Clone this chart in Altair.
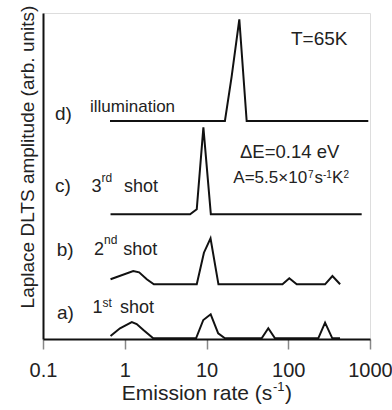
import altair as alt
import pandas as pd

# ---- data (emission rate in s^-1, amplitude in arb. units) ----
a_rate = [0.67, 0.875, 1.22, 1.40, 1.69, 2.23, 7.45, 9.14, 11.25, 13.9, 16.8, 47.3, 57.0, 68.8, 233, 282, 346, 430]
a_amp  = [3, 10.7, 17, 15, 9, 0.7, 0.7, 19, 24.7, 5.7, 0.7, 0.7, 10.7, 0.7, 0.7, 16.3, 0.7, 0.7]

b_rate = [0.67, 1.27, 1.50, 1.86, 2.27, 7.6, 9.3, 11.2, 14.0, 85, 103, 127, 282, 347, 431]
b_amp  = [59.7, 68, 66.7, 59.7, 54.7, 54.7, 86.3, 100.7, 54.7, 54.7, 60.7, 54.7, 54.7, 63, 54.7]

c_rate = [0.67, 6.3, 7.6, 9.16, 11.3, 791]
c_amp  = [124.7, 124.7, 129.7, 211.7, 124.7, 124.7]

d_rate = [0.66, 16.8, 20.3, 25.2, 31.0, 953]
d_amp  = [218, 218, 262.3, 319.7, 218, 218]

tick_values = [0.1, 1, 10, 100, 1000]

rows = []
for name, xs, ys in [("a", a_rate, a_amp), ("b", b_rate, b_amp), ("c", c_rate, c_amp), ("d", d_rate, d_amp)]:
    for xv, yv in zip(xs, ys):
        rows.append({"curve": name, "x": xv, "y": yv})
curves = pd.DataFrame(rows)

# ---- annotations (text, anchor in data coordinates, font size) ----
ann = pd.DataFrame([
    {"text": "T=65K", "x": 108, "y": 294, "size": 19},
    {"text": "d)", "x": 0.140, "y": 219, "size": 19},
    {"text": "illumination", "x": 0.376, "y": 227.5, "size": 17},
    {"text": "c)", "x": 0.140, "y": 147, "size": 19},
    {"text": "3", "x": 0.392, "y": 147, "size": 18},
    {"text": "rd", "x": 0.519, "y": 157.5, "size": 12},
    {"text": "shot", "x": 0.979, "y": 147, "size": 18},
    {"text": "\u0394E=0.14 eV", "x": 25.7, "y": 181, "size": 18.5},
    {"text": "A=5.5\u00d710", "x": 21.3, "y": 155.7, "size": 17},
    {"text": "7", "x": 174.4, "y": 161.5, "size": 10},
    {"text": "s", "x": 209.5, "y": 155.7, "size": 17},
    {"text": "-1", "x": 266.1, "y": 161.5, "size": 10},
    {"text": "K", "x": 343, "y": 155.7, "size": 17},
    {"text": "2", "x": 474, "y": 161.5, "size": 10},
    {"text": "b)", "x": 0.147, "y": 83.5, "size": 19},
    {"text": "2", "x": 0.4206, "y": 84, "size": 18},
    {"text": "nd", "x": 0.5574, "y": 95, "size": 12},
    {"text": "shot", "x": 0.960, "y": 84, "size": 18},
    {"text": "a)", "x": 0.148, "y": 20.5, "size": 19},
    {"text": "1", "x": 0.403, "y": 25.7, "size": 18},
    {"text": "st", "x": 0.534, "y": 32, "size": 12},
    {"text": "shot", "x": 0.875, "y": 25.7, "size": 18},
    # x-axis title with superscript
    {"text": "Emission rate (s", "x": 0.918, "y": -61, "size": 21},
    {"text": "-1", "x": 65.1, "y": -52, "size": 13},
    {"text": ")", "x": 91.2, "y": -61, "size": 21},
])

FONT = "Liberation Sans"

xscale = alt.Scale(type="log", domain=[0.1, 1000], nice=False)
yscale = alt.Scale(domain=[0, 326], nice=False, zero=False)

lines = alt.Chart(curves).mark_line(color="#111111", strokeWidth=2).encode(
    x=alt.X("x:Q", scale=xscale, axis=alt.Axis(
        values=tick_values, format="~g", title=None, grid=False,
        tickSize=10, tickColor="#888888", tickWidth=1.5,
        labelFontSize=20, labelColor="#222222", labelPadding=27,
        labelBaseline="alphabetic", labelFlush=False, labelOverlap=False,
        domainColor="#111111", domainWidth=2, labelFont=FONT)),
    y=alt.Y("y:Q", scale=yscale, axis=alt.Axis(
        ticks=False, labels=False, grid=False,
        domainColor="#111111", domainWidth=2,
        title="Laplace DLTS amplitude (arb. units)", titleFont=FONT,
        titleFontSize=19, titleFontWeight="normal", titleColor="#222222",
        titleAngle=270, titleX=-10, titleY=143.5,
        titleBaseline="alphabetic", titleAlign="center")),
    detail="curve:N",
)

texts = alt.Chart(ann).mark_text(align="left", baseline="alphabetic", color="#222222", font=FONT).encode(
    x="x:Q",
    y="y:Q",
    text="text:N",
    size=alt.Size("size:Q", scale=None),
)

chart = alt.layer(lines, texts).properties(
    width=327, height=326,
    padding={"left": 43, "top": 13, "right": 22, "bottom": 71},
    autosize=alt.AutoSizeParams(type="none"),
).configure_view(stroke="#111111", strokeWidth=2).configure(font=FONT)

chart.save("out.html", embed_options={"renderer": "svg", "actions": False})
